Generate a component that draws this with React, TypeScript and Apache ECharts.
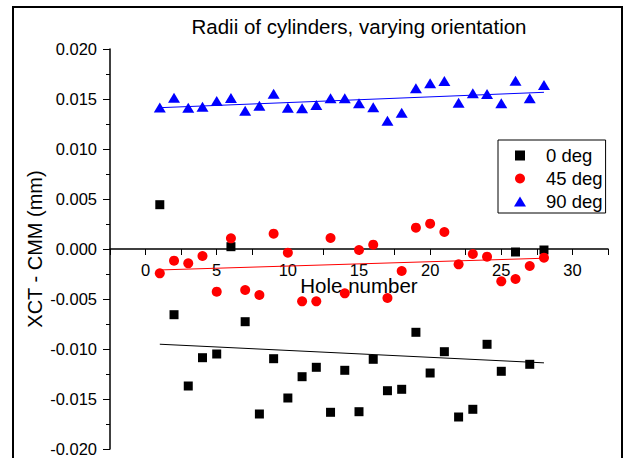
import React, { useEffect, useRef } from "react";
import * as echarts from "echarts";

// Hole numbers along the x axis
const holes: number[] = [
  1, 2, 3, 4, 5, 6, 7, 8, 9, 10, 11, 12, 13, 14,
  15, 16, 17, 18, 19, 20, 21, 22, 23, 24, 25, 26, 27, 28,
];

// XCT - CMM radius differences (mm) per orientation
const deg0: number[] = [
  0.00443, -0.00657, -0.0137, -0.01087, -0.0105, 0.00023, -0.00727,
  -0.0165, -0.01097, -0.0149, -0.01277, -0.01183, -0.01633, -0.01213,
  -0.01627, -0.01103, -0.01417, -0.01403, -0.00833, -0.0124, -0.01027,
  -0.0168, -0.01603, -0.00953, -0.01223, -0.0003, -0.01153, -0.0001,
];
const deg45: number[] = [
  -0.00243, -0.00117, -0.00143, -0.0007, -0.00427, 0.00107, -0.0041,
  -0.0046, 0.00153, -0.00037, -0.00523, -0.00523, 0.0011, -0.00443,
  -0.0001, 0.00043, -0.0049, -0.0022, 0.00213, 0.00253, 0.0017,
  -0.00153, -0.0005, -0.00077, -0.00323, -0.003, -0.0017, -0.00087,
];
const deg90: number[] = [
  0.01416, 0.01513, 0.01413, 0.01423, 0.0148, 0.0151, 0.01383,
  0.01433, 0.01553, 0.01413, 0.01407, 0.0144, 0.01507, 0.01507,
  0.01457, 0.01417, 0.01283, 0.01363, 0.01607, 0.01657, 0.0168,
  0.01463, 0.01557, 0.0155, 0.01457, 0.01683, 0.01507, 0.0164,
];

const seriesNames: string[] = ["0 deg", "45 deg", "90 deg"];
const seriesColors: string[] = ["#000000", "#ff0000", "#0000ff"];

const FONT = "'Liberation Sans', Arial, Helvetica, sans-serif";

// Ordinary least-squares line, evaluated at the first and last hole
function fitLine(xs: number[], ys: number[]): number[][] {
  const n = xs.length;
  const mx = xs.reduce((a, b) => a + b, 0) / n;
  const my = ys.reduce((a, b) => a + b, 0) / n;
  let sxy = 0;
  let sxx = 0;
  for (let i = 0; i < n; i++) {
    sxy += (xs[i] - mx) * (ys[i] - my);
    sxx += (xs[i] - mx) * (xs[i] - mx);
  }
  const slope = sxy / sxx;
  const icpt = my - slope * mx;
  const x0 = xs[0];
  const x1 = xs[n - 1];
  return [
    [x0, icpt + slope * x0],
    [x1, icpt + slope * x1],
  ];
}

export default function App() {
  const ref = useRef<HTMLDivElement>(null);

  useEffect(() => {
    if (!ref.current) return;
    const chart = echarts.init(ref.current, undefined, { renderer: "svg" });

    const groups = [deg0, deg45, deg90];
    const symbols = ["rect", "circle", "triangle"];
    const sizes: any[] = [9, 10, [12, 10]];
    // legend icons keep their own proportions inside the wide icon box
    const legendIcons = [
      "path://M0,0L8,0L8,8L0,8Z",
      "circle",
      "path://M6,0L12,10L0,10Z",
    ];

    const scatterSeries = groups.map((vals, i) => ({
      name: seriesNames[i],
      type: "scatter",
      symbol: symbols[i],
      symbolSize: sizes[i],
      itemStyle: { color: seriesColors[i], opacity: 1 },
      data: holes.map((h, j) => [h, vals[j]]),
      z: 3 + i,
    }));

    const fitSeries = groups.map((vals, i) => ({
      name: "fit " + seriesNames[i],
      type: "line",
      showSymbol: false,
      symbol: "none",
      lineStyle: { color: seriesColors[i], width: 1 },
      data: fitLine(holes, vals),
      z: 2,
    }));

    chart.setOption({
      animation: false,
      backgroundColor: "#ffffff",
      grid: {
        left: 110,
        top: 49,
        right: 16,
        bottom: 9,
        containLabel: false,
        outerBoundsMode: "none",
      },
      xAxis: {
        type: "value",
        min: -2.5,
        max: 32.5,
        interval: 2.5,
        // the axis crosses at y = 0, half way up the grid
        offset: -200,
        name: "Hole number",
        nameLocation: "middle",
        nameGap: 28,
        nameMoveOverlap: false,
        nameTextStyle: { fontFamily: FONT, fontSize: 20.5, lineHeight: 16, color: "#000" },
        axisLine: { onZero: true, lineStyle: { color: "#000", width: 1.5 } },
        axisTick: { show: true, inside: false, length: 6, lineStyle: { color: "#000", width: 1 } },
        axisLabel: {
          margin: 14.5,
          fontFamily: FONT,
          fontSize: 16.5,
          lineHeight: 13,
          color: "#000",
          formatter: (v: number) => (v >= 0 && v <= 30 && Math.abs(v % 5) < 1e-9 ? String(v) : ""),
        },
        splitLine: { show: false },
      },
      yAxis: {
        type: "value",
        min: -0.02,
        max: 0.02,
        interval: 0.005,
        name: "XCT - CMM (mm)",
        nameLocation: "middle",
        nameGap: 65,
        nameMoveOverlap: false,
        nameTextStyle: { fontFamily: FONT, fontSize: 20, color: "#000" },
        axisLine: { show: true, onZero: false, lineStyle: { color: "#000", width: 1.5 } },
        axisTick: { show: true, inside: false, length: 7, lineStyle: { color: "#000", width: 1 } },
        minorTick: { show: true, splitNumber: 2, length: 4, lineStyle: { color: "#000", width: 1 } },
        axisLabel: {
          margin: 13,
          fontFamily: FONT,
          fontSize: 16.5,
          color: "#000",
          formatter: (v: number) => v.toFixed(3),
        },
        splitLine: { show: false },
      },
      legend: {
        data: seriesNames.map((name, i) => ({ name, icon: legendIcons[i] })),
        orient: "vertical",
        left: 498,
        top: 140,
        padding: [6, 3, 2, 16],
        itemWidth: 42,
        itemHeight: 10,
        itemGap: 4,
        symbolKeepAspect: true,
        borderColor: "#000",
        borderWidth: 1,
        backgroundColor: "#ffffff",
        textStyle: { fontFamily: FONT, fontSize: 18.5, color: "#000" },
      },
      graphic: [
        {
          type: "rect",
          shape: { x: 13, y: 7, width: 609, height: 470 },
          style: { fill: "none", stroke: "#000", lineWidth: 2 },
          silent: true,
        },
        {
          type: "text",
          x: 359,
          y: 26,
          style: {
            text: "Radii of cylinders, varying orientation",
            fontFamily: FONT,
            fontSize: 20.5,
            fill: "#000",
            textAlign: "center",
            textVerticalAlign: "middle",
          },
        },
      ],
      series: [...fitSeries, ...scatterSeries],
    });

    return () => {
      chart.dispose();
    };
  }, []);

  return (
    <div
      ref={ref}
      style={{ position: "absolute", left: 0, top: 0, width: 624, height: 458 }}
    />
  );
}
